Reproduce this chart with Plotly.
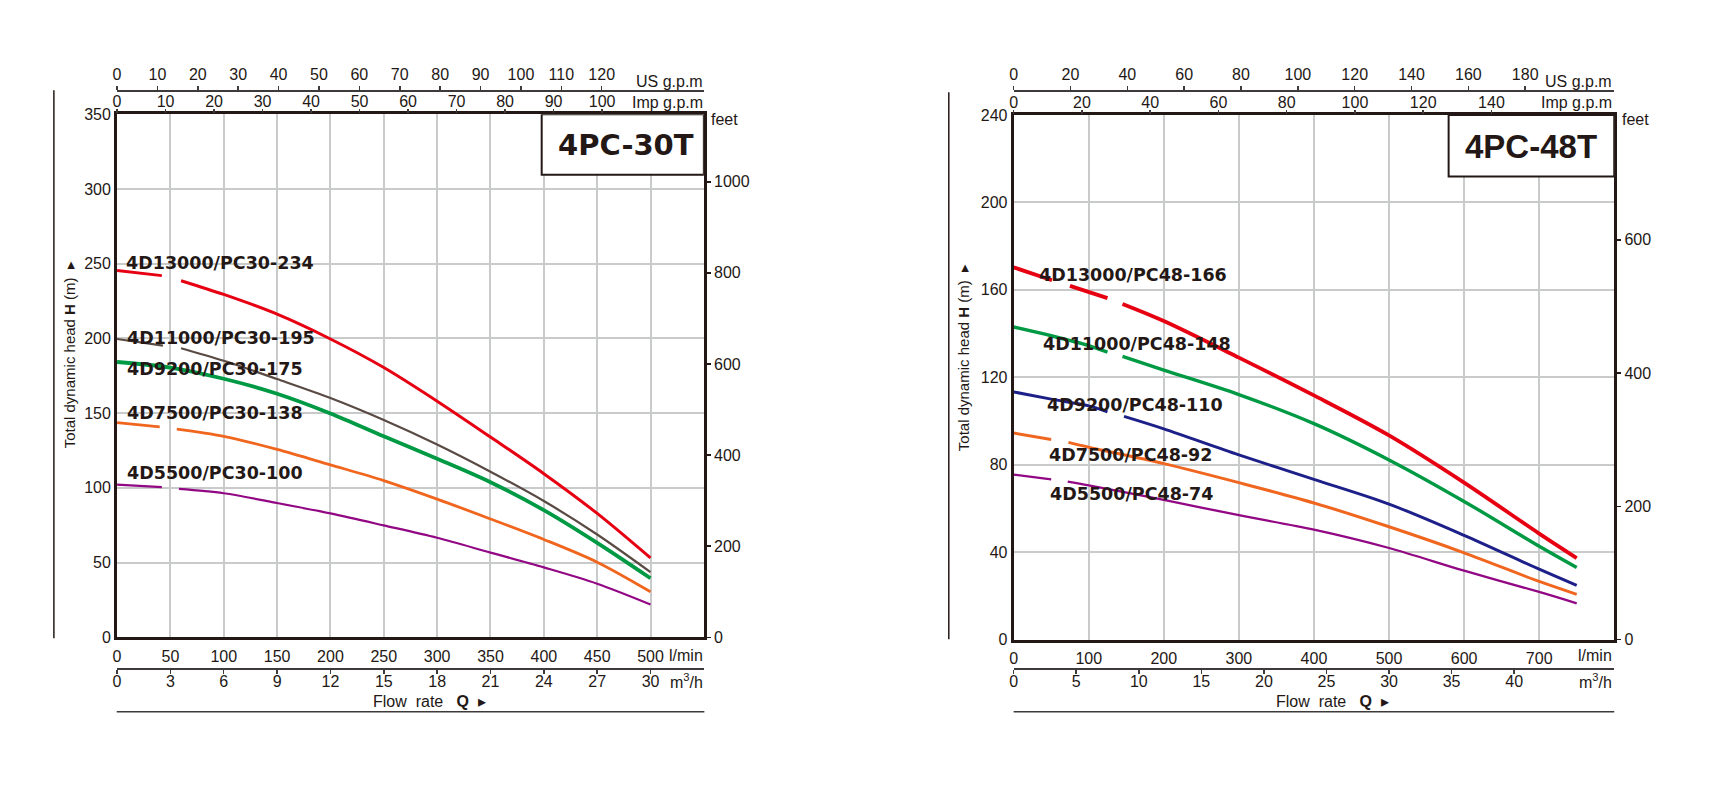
import plotly.graph_objects as go

# ---------------- data ----------------
# 4PC-30T : flow rate Q (l/min) and total dynamic head H (m); None = break in the curve
q_30_234 = [0, 42, None, 60, 100, 150, 200, 250, 300, 350, 400, 450, 500]
h_30_234 = [245.5, 242.0, None, 238.6, 229.4, 216.2, 199.6, 180.5, 158.0, 134.0, 109.5, 82.9, 53.1]
q_30_195 = [0, 43, None, 60, 100, 150, 200, 250, 300, 350, 400, 450, 500]
h_30_195 = [199.6, 195.2, None, 193.4, 185.0, 172.8, 160.1, 145.4, 129.0, 110.8, 91.2, 68.8, 43.6]
q_30_175 = [0, 50, 100, 150, 200, 250, 300, 350, 400, 450, 500]
h_30_175 = [184.2, 180.5, 173.0, 163.0, 149.8, 134.5, 119.5, 103.8, 85.1, 63.2, 39.5]
q_30_138 = [0, 40, None, 56, 100, 150, 200, 250, 300, 350, 400, 450, 500]
h_30_138 = [143.7, 140.8, None, 139.3, 134.5, 125.7, 115.4, 104.9, 92.5, 79.2, 65.5, 50.3, 30.5]
q_30_100 = [0, 42, None, 58, 100, 150, 200, 250, 300, 350, 400, 450, 500]
h_30_100 = [102.2, 100.5, None, 99.3, 96.4, 89.9, 82.9, 74.9, 66.6, 56.7, 46.8, 35.9, 22.0]

# 4PC-48T
q_48_166 = [0, 51, None, 75, 125, None, 145, 200, 300, 400, 500, 600, 700, 750]
h_48_166 = [170.3, 164.4, None, 161.8, 156.2, None, 153.5, 145.7, 129.0, 111.7, 93.4, 71.8, 48.5, 37.3]
q_48_148 = [0, 50, 100, 125, None, 145, 200, 300, 400, 500, 600, 700, 750]
h_48_148 = [143.0, 139.0, 134.5, 131.5, None, 129.6, 123.3, 112.1, 98.8, 82.2, 63.2, 42.7, 33.0]
q_48_110 = [0, 50, 100, 125, None, 147, 200, 300, 400, 500, 600, 700, 750]
h_48_110 = [113.3, 110.0, 106.9, 104.2, None, 102.1, 96.4, 84.5, 73.3, 62.0, 47.7, 32.2, 24.8]
q_48_92 = [0, 50, None, 73, 100, 200, 300, 400, 500, 600, 700, 750]
h_48_92 = [94.5, 91.5, None, 90.2, 88.0, 80.5, 71.8, 62.5, 51.6, 39.7, 26.6, 20.7]
q_48_74 = [0, 50, None, 72, 100, 200, 300, 400, 500, 600, 700, 750]
h_48_74 = [75.5, 73.3, None, 72.3, 70.6, 63.9, 56.9, 50.3, 41.9, 31.5, 21.8, 16.6]

labels_30 = ["4D13000/PC30-234", "4D11000/PC30-195", "4D9200/PC30-175", "4D7500/PC30-138", "4D5500/PC30-100"]
labels_48 = ["4D13000/PC48-166", "4D11000/PC48-148", "4D9200/PC48-110", "4D7500/PC48-92", "4D5500/PC48-74"]

# tick labels
lmin_ticks_30 = [0, 50, 100, 150, 200, 250, 300, 350, 400, 450, 500]
m3h_ticks_30 = [0, 3, 6, 9, 12, 15, 18, 21, 24, 27, 30]
us_ticks_30 = [0, 10, 20, 30, 40, 50, 60, 70, 80, 90, 100, 110, 120]
imp_ticks_30 = [0, 10, 20, 30, 40, 50, 60, 70, 80, 90, 100]
m_ticks_30 = [0, 50, 100, 150, 200, 250, 300, 350]
ft_ticks_30 = [0, 200, 400, 600, 800, 1000]

lmin_ticks_48 = [0, 100, 200, 300, 400, 500, 600, 700]
m3h_ticks_48 = [0, 5, 10, 15, 20, 25, 30, 35, 40]
us_ticks_48 = [0, 20, 40, 60, 80, 100, 120, 140, 160, 180]
imp_ticks_48 = [0, 20, 40, 60, 80, 100, 120, 140]
m_ticks_48 = [0, 40, 80, 120, 160, 200, 240]
ft_ticks_48 = [0, 200, 400, 600]

# unit conversions (for the secondary axes ranges)
LMIN_TO_M3H = 0.06
LMIN_TO_USGPM = 0.264172
LMIN_TO_IMPGPM = 0.219969
M_TO_FT = 1 / 0.3048

QMAX_30, HMAX_30 = 550, 350
QMAX_48, HMAX_48 = 800, 240

# ---------------- style ----------------
W, H = 1720, 800
INK = "#231815"
AX2 = "#3e3a39"
GRID = "#c9caca"
FONT = "Liberation Sans"
BOLD = "DejaVu Sans"
RED, BROWN, GREEN, ORANGE, PURPLE, BLUE = "#e60012", "#594a44", "#009944", "#f0661e", "#920783", "#1d2088"


def px(x):
    return x / W


def py(y):
    return 1 - y / H


tickfont = dict(family=FONT, size=16, color=INK)

fig = go.Figure()

left_series = [
    (q_30_234, h_30_234, RED, 3.0),
    (q_30_195, h_30_195, BROWN, 2.2),
    (q_30_175, h_30_175, GREEN, 3.8),
    (q_30_138, h_30_138, ORANGE, 2.8),
    (q_30_100, h_30_100, PURPLE, 2.2),
]
right_series = [
    (q_48_166, h_48_166, RED, 3.8),
    (q_48_148, h_48_148, GREEN, 3.4),
    (q_48_110, h_48_110, BLUE, 3.0),
    (q_48_92, h_48_92, ORANGE, 3.0),
    (q_48_74, h_48_74, PURPLE, 2.3),
]

for (q, h, c, w), name in zip(left_series, labels_30):
    fig.add_trace(go.Scatter(x=q, y=h, mode="lines", name=name, xaxis="x", yaxis="y",
                             line=dict(color=c, width=w, shape="spline", smoothing=0.9),
                             connectgaps=False, hoverinfo="skip"))
for (q, h, c, w), name in zip(right_series, labels_48):
    fig.add_trace(go.Scatter(x=q, y=h, mode="lines", name=name, xaxis="x5", yaxis="y3",
                             line=dict(color=c, width=w, shape="spline", smoothing=0.9),
                             connectgaps=False, hoverinfo="skip"))

# empty traces so that every secondary axis belongs to a subplot
for xa, ya in [("x2", "y"), ("x3", "y"), ("x4", "y"), ("x", "y2"),
               ("x6", "y3"), ("x7", "y3"), ("x8", "y3"), ("x5", "y4")]:
    fig.add_trace(go.Scatter(x=[], y=[], xaxis=xa, yaxis=ya, showlegend=False, hoverinfo="skip"))

L_XDOM = [px(113.3), px(701.5)]
R_XDOM = [px(1012), px(1614)]
L_YDOM = [py(643), py(108.5)]
R_YDOM = [py(645.3), py(109.3)]


def main_x(dom, rng, ticks, anchor):
    return dict(domain=dom, range=rng, anchor=anchor, tickvals=ticks, showgrid=True, gridcolor=GRID,
                gridwidth=2, showline=True, linewidth=3, linecolor=INK, mirror=True, ticks="",
                tickfont=tickfont, zeroline=False, fixedrange=True, ticklabelstandoff=2)


def main_y(dom, rng, ticks, anchor):
    return dict(domain=dom, range=rng, anchor=anchor, tickvals=ticks, showgrid=True, gridcolor=GRID,
                gridwidth=2, showline=True, linewidth=3, linecolor=INK, mirror=True, ticks="",
                tickfont=tickfont, zeroline=False, fixedrange=True)


def sub_x(over, rng, ticks, side, anchor, pos=None, line=True, standoff=0):
    d = dict(overlaying=over, range=rng, tickvals=ticks, side=side, anchor=anchor, showgrid=False,
             showline=line, linewidth=2, linecolor=AX2, ticks="outside", ticklen=4, tickwidth=1.5,
             tickcolor=AX2, tickfont=tickfont, zeroline=False, fixedrange=True,
             ticklabelstandoff=standoff)
    if pos is not None:
        d["position"] = pos
    return d


def feet_y(over, rng, ticks, anchor):
    return dict(overlaying=over, range=rng, tickvals=ticks, side="right", anchor=anchor, showgrid=False,
                showline=False, ticks="outside", ticklen=6, tickwidth=1.5, tickcolor=INK,
                tickfont=tickfont, zeroline=False, fixedrange=True)


fig.update_layout(
    width=W, height=H, margin=dict(l=0, r=0, t=0, b=0), autosize=False,
    paper_bgcolor="white", plot_bgcolor="white", showlegend=False,
    xaxis=main_x(L_XDOM, [0, QMAX_30], lmin_ticks_30, "y"),
    xaxis2=sub_x("x", [0, QMAX_30 * LMIN_TO_M3H], m3h_ticks_30, "bottom", "free", py(675), standoff=-6),
    xaxis3=sub_x("x", [0, QMAX_30 * LMIN_TO_USGPM], us_ticks_30, "top", "free", py(85)),
    xaxis4=sub_x("x", [0, QMAX_30 * LMIN_TO_IMPGPM], imp_ticks_30, "top", "y", line=False, standoff=-4),
    yaxis=main_y(L_YDOM, [0, HMAX_30], m_ticks_30, "x"),
    yaxis2=feet_y("y", [0, HMAX_30 * M_TO_FT], ft_ticks_30, "x"),
    xaxis5=main_x(R_XDOM, [0, QMAX_48], lmin_ticks_48, "y3"),
    xaxis6=sub_x("x5", [0, QMAX_48 * LMIN_TO_M3H], m3h_ticks_48, "bottom", "free", py(675), standoff=-6),
    xaxis7=sub_x("x5", [0, QMAX_48 * LMIN_TO_USGPM], us_ticks_48, "top", "free", py(85)),
    xaxis8=sub_x("x5", [0, QMAX_48 * LMIN_TO_IMPGPM], imp_ticks_48, "top", "y3", line=False, standoff=-4),
    yaxis3=main_y(R_YDOM, [0, HMAX_48], m_ticks_48, "x5"),
    yaxis4=feet_y("y3", [0, HMAX_48 * M_TO_FT], ft_ticks_48, "x5"),
)

# ---------------- decorations ----------------
shapes = [
    # model boxes
    dict(type="rect", xref="x", yref="y", x0=398, x1=QMAX_30, y0=309.5, y1=HMAX_30,
         line=dict(color=INK, width=2), fillcolor="white", layer="above"),
    dict(type="rect", xref="x5", yref="y3", x0=579.4, x1=QMAX_48, y0=211.9, y1=HMAX_48,
         line=dict(color=INK, width=2), fillcolor="white", layer="above"),
    # outer vertical lines
    dict(type="line", xref="paper", yref="paper", x0=px(50), x1=px(50), y0=py(84), y1=py(644),
         line=dict(color=INK, width=1.5)),
    dict(type="line", xref="paper", yref="paper", x0=px(947), x1=px(947), y0=py(86), y1=py(645),
         line=dict(color=INK, width=1.5)),
    # underlines of the flow rate titles
    dict(type="line", xref="paper", yref="paper", x0=px(113), x1=px(702), y0=py(719), y1=py(719),
         line=dict(color=AX2, width=1.5)),
    dict(type="line", xref="paper", yref="paper", x0=px(1012), x1=px(1614), y0=py(719), y1=py(719),
         line=dict(color=AX2, width=1.5)),
]
fig.update_layout(shapes=shapes)

ann = []


def text(x, y, s, size=16, xanchor="left", family=FONT, angle=0, xref="paper", yref="paper"):
    ann.append(dict(x=x, y=y, xref=xref, yref=yref, text=s, showarrow=False, xanchor=xanchor,
                    yanchor="middle", textangle=angle, font=dict(family=family, size=size, color=INK)))


# curve labels (data coordinates)
for s, (xq, yh) in zip(labels_30, [(6.5, 250.7), (7.5, 200.6), (7.5, 179.2), (7.5, 150.0), (7.5, 110.0)]):
    text(xq, yh, "<b>%s</b>" % s, size=17.5, family=BOLD, xref="x", yref="y")
for s, (xq, yh) in zip(labels_48, [(31.5, 166.9), (36.0, 135.3), (42.1, 107.2), (44.8, 84.3), (45.7, 66.4)]):
    text(xq, yh, "<b>%s</b>" % s, size=17.5, family=BOLD, xref="x5", yref="y3")

# model titles
text(px(623), py(140), "<b>4PC-30T</b>", size=29, xanchor="center", family=BOLD)
text(px(1530.5), py(141), "<b>4PC-48T</b>", size=33, xanchor="center", family=FONT)

# unit labels
for xr, xf in [(703, 707), (1614, 1620)]:
    text(px(xr), py(75), "US g.p.m", xanchor="right")
    text(px(xr), py(97), "Imp g.p.m", xanchor="right")
    text(px(xr), py(662), "l/min", xanchor="right")
    text(px(xr), py(688), "m<sup>3</sup>/h", xanchor="right")
    text(px(xf), py(114), "feet", xanchor="left")

# axis titles
text(px(66), py(354), "Total dynamic head <b>H</b> (m)  ▸", size=15, xanchor="center", angle=-90)
text(px(962), py(357), "Total dynamic head <b>H</b> (m)  ▸", size=15, xanchor="center", angle=-90)
text(px(426), py(709), "Flow  rate   <b>Q</b>  ▸", size=16, xanchor="center")
text(px(1332), py(709), "Flow  rate   <b>Q</b>  ▸", size=16, xanchor="center")

fig.update_layout(annotations=ann)

fig.write_html("out.html", config={"displayModeBar": False, "staticPlot": True},
               post_script="document.body.style.margin='0';document.body.style.overflow='hidden';")
